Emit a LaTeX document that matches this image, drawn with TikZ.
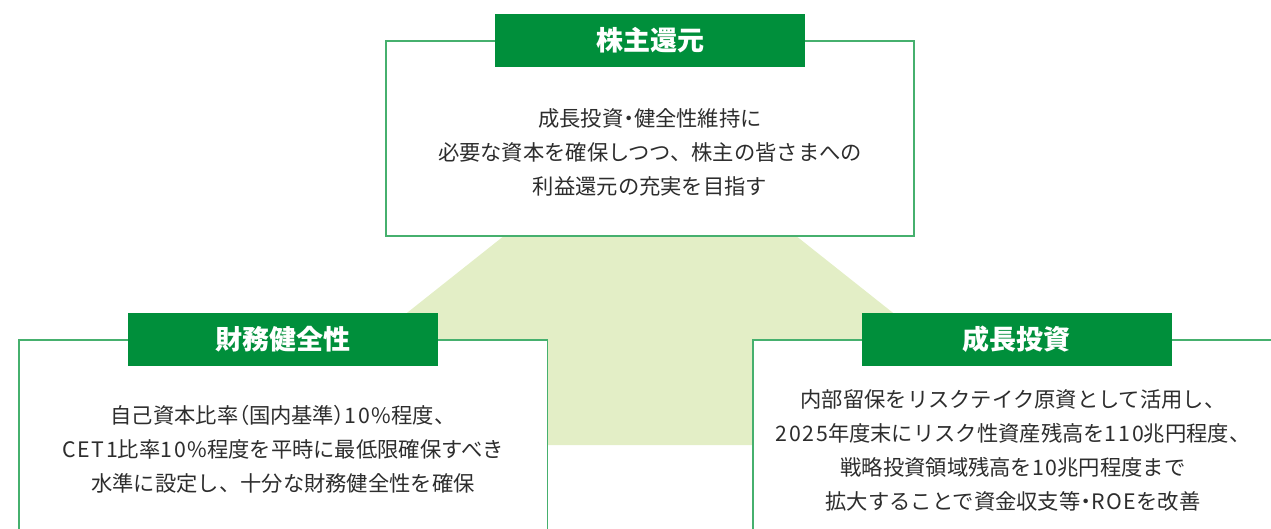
\documentclass[tikz,border=0pt]{standalone}
\usepackage{fontspec}
\setmainfont{Noto Sans CJK JP}
\newfontfamily\jpfont{Noto Sans CJK JP}
\newfontfamily\jppalt[RawFeature=+palt]{Noto Sans CJK JP}
\newfontfamily\jplat[LetterSpace=8]{Noto Sans CJK JP}
\newcommand{\pp}[1]{{\jppalt #1}}
\newcommand{\lt}[1]{{\jplat #1}}
\definecolor{labelgreen}{RGB}{0,143,59}
\definecolor{linegreen}{RGB}{70,176,110}
\definecolor{paleg}{RGB}{227,238,198}
\definecolor{bodytext}{RGB}{45,45,45}
\tikzset{
  panel/.style={draw=linegreen, line width=1.6pt, fill=white, inner sep=0pt},
  tag/.style={fill=labelgreen, text=white, inner sep=0pt, minimum width=310pt, minimum height=53pt,
    font=\jpfont\bfseries\fontsize{27}{30}\selectfont},
  body/.style={text=bodytext, align=center, inner sep=0pt,
    font=\jpfont\fontsize{21.3}{34}\selectfont}
}
\begin{document}
\begin{tikzpicture}[x=1pt,y=-1pt]
\useasboundingbox (0,0) rectangle (1271,528);
\clip (0,0) rectangle (1271,528);
% pale triangle in the background
\fill[paleg] (650,120) -- (1059.5,445) -- (240.5,445) -- cycle;
% panels
\node[panel, minimum width=528pt, minimum height=195pt] (topbox) at (650,138.5) {};
\node[panel, minimum width=528.5pt, minimum height=240pt] (leftbox) at (283.25,460) {};
\node[panel, minimum width=560pt, minimum height=240pt] (rightbox) at (1033,460) {};
% tags
\node[tag] (toptag) at (650,40.5) {株主還元};
\node[tag] (lefttag) at (282.5,339.5) {財務健全性};
\node[tag] (righttag) at (1016.5,339.5) {成長投資};
% body texts
\node[body] (toptext) at (650,152) {成長投資\pp{・}健全性維持に\\必要な資本を確保しつつ、株主の皆さまへの\\利益還元の充実を目指す};
\node[body] (lefttext) at (283,449.5) {自己資本比率\pp{（}国内基準\pp{）}\lt{10\%}程度、\\\lt{CET1}比率\lt{10\%}程度を平時に最低限確保すべき\\水準に設定し、十分な財務健全性を確保};
\node[body] (righttext) at (1013,450) {内部留保をリスクテイク原資として活用し、\\\lt{2025}年度末にリスク性資産残高を\lt{110}兆円程度、\\戦略投資領域残高を\lt{10}兆円程度まで\\拡大することで資金収支等\pp{・}\lt{ROE}を改善};
\end{tikzpicture}
\end{document}
